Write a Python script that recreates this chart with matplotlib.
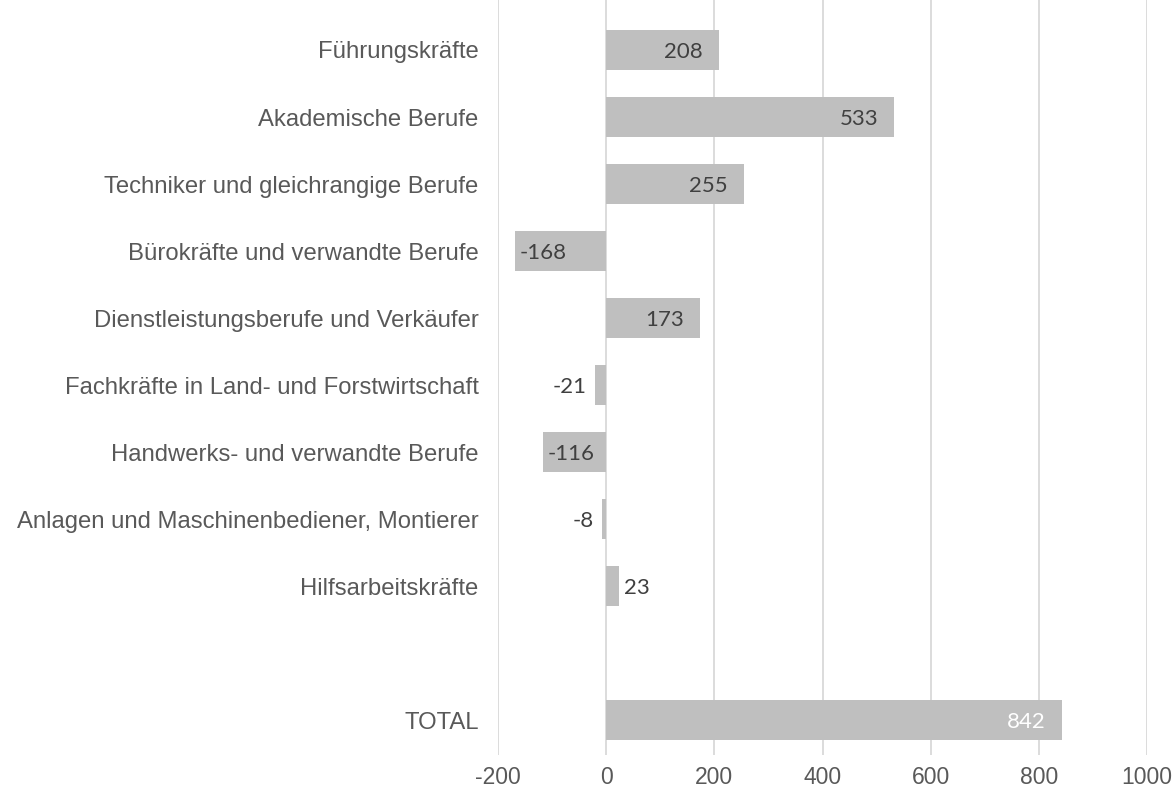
import numpy as np
import matplotlib.pyplot as plt

categories = ['Führungskräfte', 'Akademische Berufe', 'Techniker und gleichrangige Berufe',
              'Bürokräfte und verwandte Berufe', 'Dienstleistungsberufe und Verkäufer',
              'Fachkräfte in Land- und Forstwirtschaft', 'Handwerks- und verwandte Berufe',
              'Anlagen und Maschinenbediener, Montierer', 'Hilfsarbeitskräfte', '', 'TOTAL']
values = [208, 533, 255, -168, 173, -21, -116, -8, 23, None, 842]
xticks = [-200, 0, 200, 400, 600, 800, 1000]

bar_color = '#bfbfbf'
grid_color = '#d9d9d9'
text_color = '#595959'

fig = plt.figure(figsize=(11.76, 7.92), dpi=100)
ax = fig.add_axes([498 / 1176, 1 - 755 / 792, 649 / 1176, 755 / 792])

ypos = np.arange(len(categories))
for y, v in zip(ypos, values):
    if v is None:
        continue
    ax.barh(y, v, height=0.6, color=bar_color, zorder=2)

ax.set_xlim(-200, 1000)
ax.set_ylim(10.52, -0.746)
ax.set_xticks(xticks)
ax.set_xticklabels([str(t) for t in xticks])
ax.set_yticks(ypos)
ax.set_yticklabels(categories)
ax.tick_params(axis='both', length=0, labelcolor=text_color)
ax.tick_params(axis='y', pad=14, labelsize=17.2)
ax.tick_params(axis='x', pad=8, labelsize=16.5)
for lab in ax.get_xticklabels() + ax.get_yticklabels():
    lab.set_fontfamily('Liberation Sans')
ax.grid(axis='x', color=grid_color, linewidth=1.3, zorder=0)
for s in ax.spines.values():
    s.set_visible(False)

# data labels, Excel-like "inside end"
px = 1200 / 649  # data units per pixel
for y, v in zip(ypos, values):
    if v is None:
        continue
    col = 'white' if categories[y] == 'TOTAL' else '#404040'
    if abs(v) >= 50:
        if v > 0:
            x, ha = v - 16 * px, 'right'
        else:
            x, ha = v + 4 * px, 'left'
    else:
        if v > 0:
            x, ha = v + 5 * px, 'left'
        else:
            x, ha = v - 8 * px, 'right'
    ax.text(x, y + 0.03, str(v), ha=ha, va='center', color=col,
            fontsize=16, family='Lato', zorder=3)

fig.savefig('out.png', dpi=100)
